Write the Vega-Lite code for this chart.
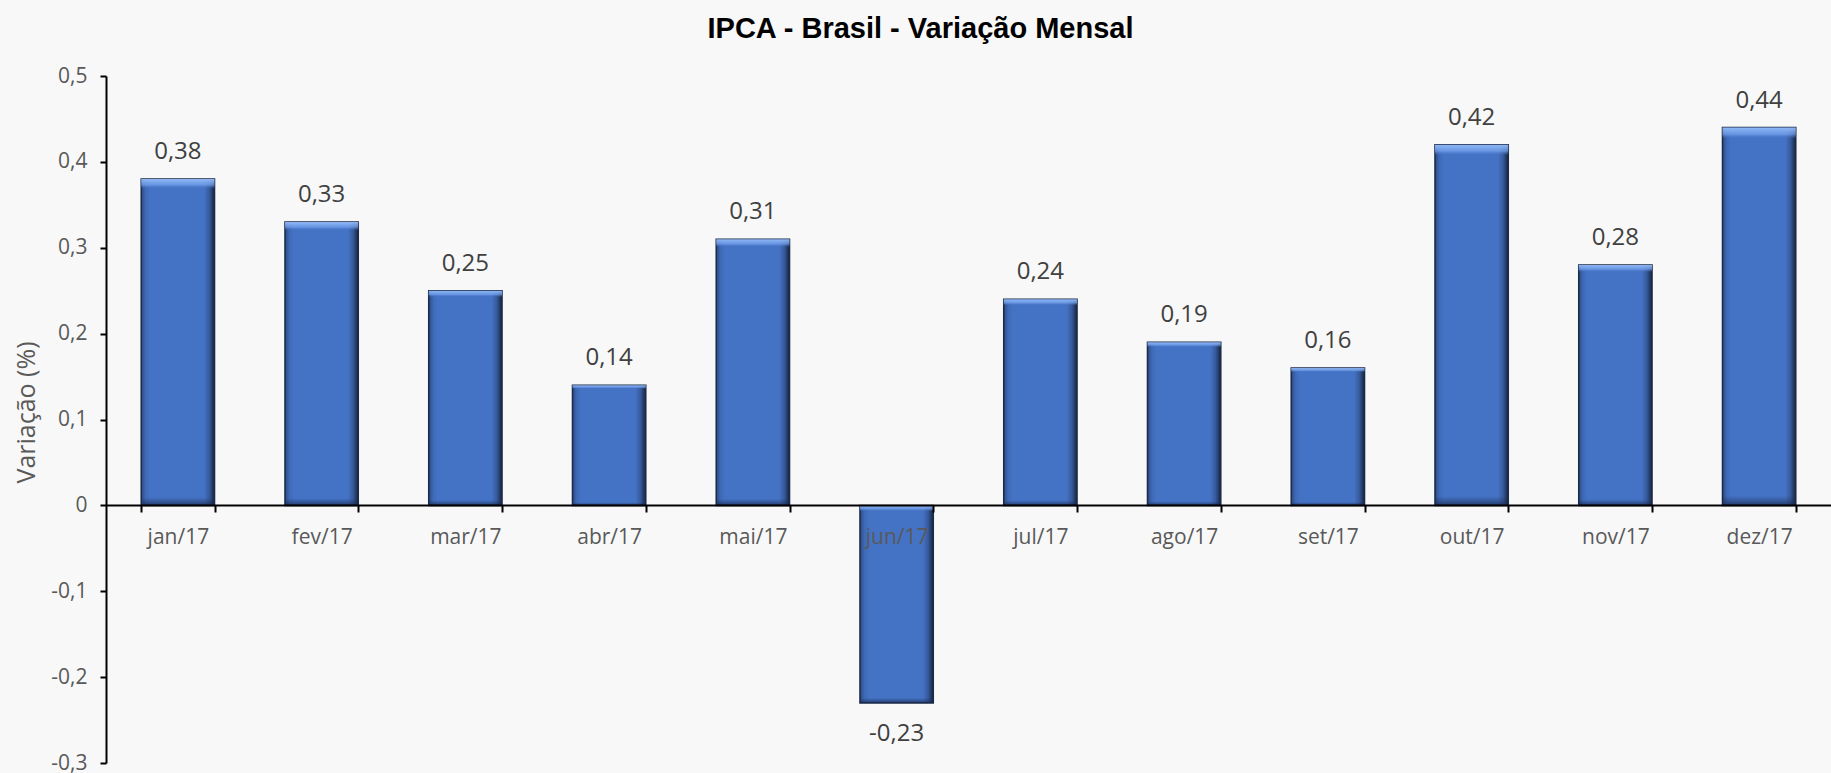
{
  "$schema": "https://vega.github.io/schema/vega-lite/v6.json",
  "width": 1725,
  "height": 687,
  "autosize": {"type": "none"},
  "padding": {"left": 106, "top": 76, "right": 0, "bottom": 10},
  "background": "#F8F8F8",
  "title": {
    "text": "IPCA - Brasil - Variação Mensal",
    "font": "Liberation Sans",
    "fontSize": 29,
    "fontWeight": "bold",
    "color": "#000000",
    "anchor": "middle",
    "baseline": "middle",
    "offset": 7,
    "dx": -48
  },
  "config": {
    "locale": {"number": {"decimal": ",", "thousands": ".", "grouping": [3], "currency": ["R$", ""], "minus": "-"}},
    "view": {"stroke": null}
  },
  "data": {
    "values": [
      {"mes": "jan/17", "v": 0.38},
      {"mes": "fev/17", "v": 0.33},
      {"mes": "mar/17", "v": 0.25},
      {"mes": "abr/17", "v": 0.14},
      {"mes": "mai/17", "v": 0.31},
      {"mes": "jun/17", "v": -0.23},
      {"mes": "jul/17", "v": 0.24},
      {"mes": "ago/17", "v": 0.19},
      {"mes": "set/17", "v": 0.16},
      {"mes": "out/17", "v": 0.42},
      {"mes": "nov/17", "v": 0.28},
      {"mes": "dez/17", "v": 0.44}
    ]
  },
  "encoding": {
    "x": {
      "field": "mes",
      "type": "nominal",
      "sort": null,
      "scale": {"paddingInner": 0.49, "paddingOuter": 0.245},
      "axis": {
        "title": null,
        "labelAngle": 0,
        "labelFont": "Open Sans",
        "labelFontSize": 21,
        "labelColor": "#595959",
        "labelPadding": 14,
        "domainColor": "#000000",
        "domainWidth": 2,
        "tickColor": "#000000",
        "tickWidth": 2,
        "tickSize": 7,
        "tickBand": "extent",
        "offset": -258,
        "zindex": 1,
        "grid": false
      }
    },
    "y": {
      "field": "v",
      "type": "quantitative",
      "scale": {"domain": [-0.3, 0.5], "nice": false, "zero": false},
      "axis": {
        "title": "Variação (%)",
        "titleFont": "Open Sans",
        "titleFontSize": 25,
        "titleFontWeight": "normal",
        "titleColor": "#595959",
        "titleX": -80,
        "titleY": 336,
        "titleAlign": "center",
        "titleBaseline": "middle",
        "values": [-0.3, -0.2, -0.1, 0, 0.1, 0.2, 0.3, 0.4, 0.5],
        "format": ".1~f",
        "labelFont": "Open Sans",
        "labelFontSize": 21,
        "labelColor": "#595959",
        "labelPadding": 13,
        "domainColor": "#000000",
        "domainWidth": 2,
        "tickColor": "#000000",
        "tickWidth": 2,
        "tickSize": 6,
        "grid": false
      }
    }
  },
  "layer": [
    {
      "mark": {
        "type": "bar",
        "stroke": "#1B2A47",
        "strokeWidth": 1.5,
        "color": {
          "gradient": "linear",
          "x1": 0, "y1": 0, "x2": 1, "y2": 0,
          "stops": [
            {"offset": 0, "color": "#2B4A82"},
            {"offset": 0.06, "color": "#3F69B6"},
            {"offset": 0.12, "color": "#4472C4"},
            {"offset": 0.86, "color": "#4472C4"},
            {"offset": 0.93, "color": "#36599A"},
            {"offset": 1, "color": "#17243F"}
          ]
        }
      }
    },
    {
      "mark": {
        "type": "bar",
        "strokeWidth": 0,
        "color": {
          "gradient": "linear",
          "x1": 0, "y1": 0, "x2": 0, "y2": 1,
          "stops": [
            {"offset": 0, "color": "rgba(150,190,250,0.95)"},
            {"offset": 0.018, "color": "rgba(120,165,240,0.7)"},
            {"offset": 0.03, "color": "rgba(68,114,196,0)"},
            {"offset": 0.975, "color": "rgba(30,50,90,0)"},
            {"offset": 1, "color": "rgba(20,35,70,0.7)"}
          ]
        }
      }
    },
    {
      "transform": [{"filter": "datum.v >= 0"}],
      "mark": {"type": "text", "font": "Open Sans", "fontSize": 24, "color": "#404040", "baseline": "middle", "dy": -27},
      "encoding": {"text": {"field": "v", "type": "quantitative", "format": ".2f"}}
    },
    {
      "transform": [{"filter": "datum.v < 0"}],
      "mark": {"type": "text", "font": "Open Sans", "fontSize": 24, "color": "#404040", "baseline": "middle", "dy": 31},
      "encoding": {"text": {"field": "v", "type": "quantitative", "format": ".2f"}}
    }
  ]
}
